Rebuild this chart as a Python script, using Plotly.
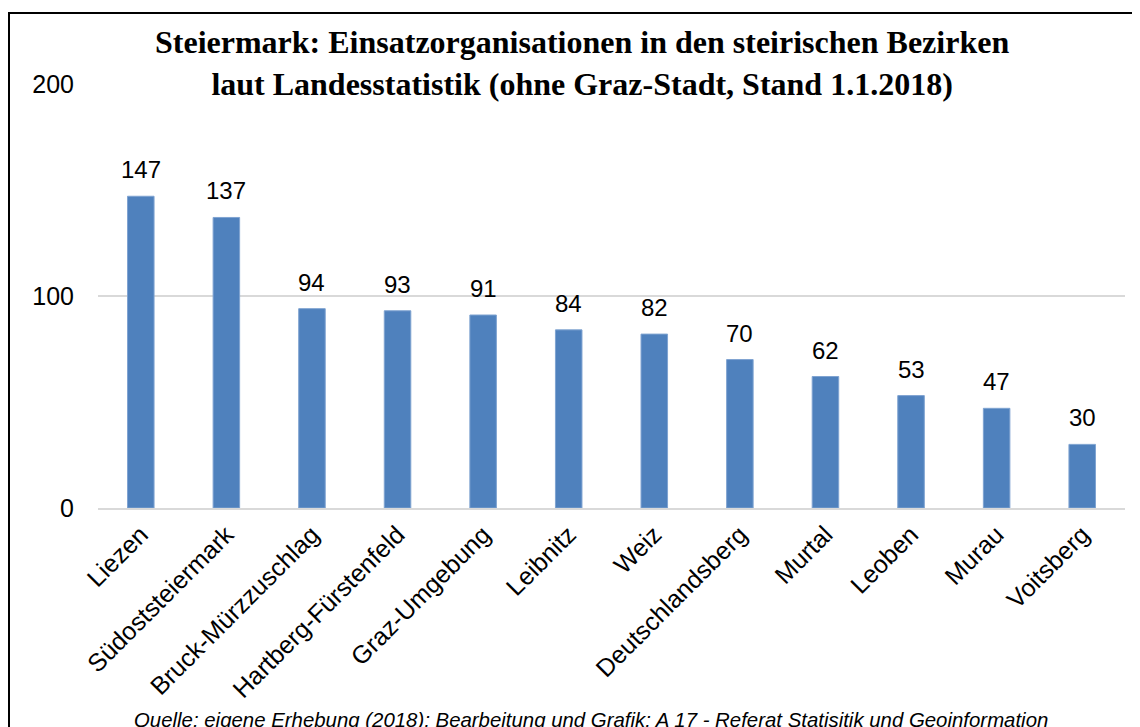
import plotly.graph_objects as go

categories = ["Liezen", "Südoststeiermark", "Bruck-Mürzzuschlag", "Hartberg-Fürstenfeld",
              "Graz-Umgebung", "Leibnitz", "Weiz", "Deutschlandsberg", "Murtal",
              "Leoben", "Murau", "Voitsberg"]
values = [147, 137, 94, 93, 91, 84, 82, 70, 62, 53, 47, 30]
y_ticks = [0, 100, 200]

title_text = ("<b>Steiermark: Einsatzorganisationen in den steirischen Bezirken<br>"
              "laut Landesstatistik (ohne Graz-Stadt, Stand 1.1.2018)</b>")
source_text = "Quelle: eigene Erhebung (2018); Bearbeitung und Grafik: A 17 - Referat Statisitik und Geoinformation"

OFF = 8  # page body margin
W, H = 1140 - OFF, 727 - OFF
L, R, T, B = 98 - OFF, 1125 - OFF, 83 - OFF, 508 - OFF

fig = go.Figure()
fig.add_trace(go.Bar(
    x=categories, y=values, width=0.31,
    marker=dict(color="#4F81BD", line=dict(color="#7FA3D1", width=1)),
    hoverinfo="x+y",
))

for c, v in zip(categories, values):
    fig.add_annotation(x=c, y=v, text=str(v), showarrow=False, yanchor="bottom",
                       yshift=11, font=dict(family="Liberation Sans, Arial", size=24, color="#000"))

def px_x(p):
    return (p - OFF - L) / (R - L)

def px_y(p):
    return (B - (p - OFF)) / (B - T)

fig.add_annotation(xref="paper", yref="paper", x=px_x(582), y=px_y(63), text=title_text,
                   showarrow=False, xanchor="center", yanchor="middle",
                   font=dict(family="Liberation Serif, Times New Roman", size=32, color="#000"),
                   align="center")
fig.add_annotation(xref="paper", yref="paper", x=px_x(591), y=px_y(707), text="<i>" + source_text + "</i>",
                   showarrow=False, xanchor="center", yanchor="top",
                   font=dict(family="Liberation Sans, Arial", size=20.4, color="#000"))

fig.add_shape(type="rect", xref="paper", yref="paper",
              x0=px_x(9), x1=px_x(1150), y0=px_y(760), y1=px_y(13),
              line=dict(color="#000", width=2), fillcolor="rgba(0,0,0,0)", layer="above")

fig.update_layout(
    width=W, height=H,
    margin=dict(l=L, r=W - R, t=T, b=H - B, pad=0),
    paper_bgcolor="white", plot_bgcolor="white",
    showlegend=False,
    font=dict(family="Liberation Sans, Arial", color="#000"),
    xaxis=dict(tickangle=-45, tickfont=dict(size=25, color="#000"), showgrid=False,
               showline=True, linecolor="#D9D9D9", linewidth=2, ticks="", automargin=False),
    yaxis=dict(range=[0, 200.4], tickvals=y_ticks, tickfont=dict(size=25, color="#000"),
               showgrid=True, gridcolor="#D9D9D9", gridwidth=2, zeroline=False,
               showline=False, ticks="outside", ticklen=18, tickcolor="rgba(0,0,0,0)",
               automargin=False),
)

fig.write_html("out.html")
